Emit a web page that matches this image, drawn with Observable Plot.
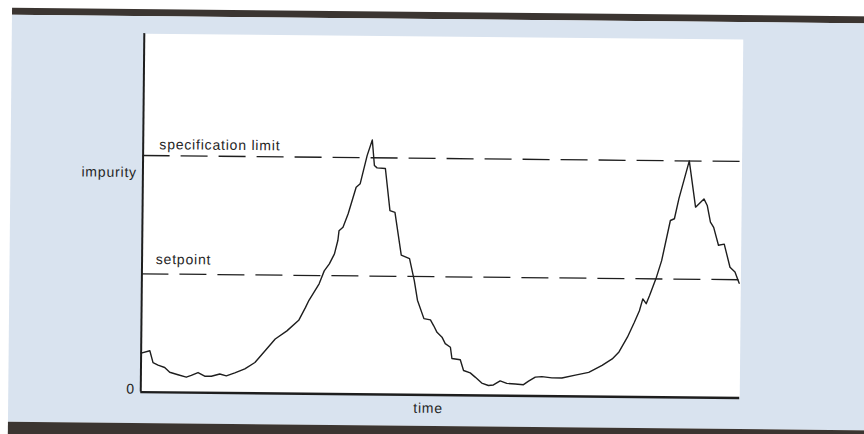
<!DOCTYPE html>
<html>
<head>
<meta charset="utf-8">
<script src="https://cdn.jsdelivr.net/npm/d3@7"></script>
<script src="https://cdn.jsdelivr.net/npm/@observablehq/plot@0.6"></script>
<style>
  html, body { margin: 0; padding: 0; background: #ffffff; overflow: hidden; }
  #page {
    position: absolute; left: 0; top: 0; width: 900px; height: 470px;
    transform-origin: 432px 217px; transform: rotate(0.57deg);
  }
  #topbar { position: absolute; left: 10px; top: 12px; width: 890px; height: 7px; background: #3b3531; }
  #panel { position: absolute; left: 10px; top: 19px; width: 890px; height: 407px; background: #d9e3ef; }
  #botbar { position: absolute; left: 10px; top: 426px; width: 890px; height: 45px; background: #3b3531; }
  #chart svg { display: block; }
</style>
</head>
<body>
<div id="page">
  <div id="topbar"></div>
  <div id="panel"><div id="chart"></div></div>
  <div id="botbar"></div>
</div>
<script>
// time (0..100, arbitrary units) and impurity (setpoint = 1, specification limit = 2)
const time = [0,1.45,2.0,2.84,3.96,4.8,6.19,7.58,8.41,9.53,
  10.65,11.76,13.16,14.26,15.67,17.34,19.01,20.69,22.36,24.3,
  26.25,27.37,27.93,29.6,30.43,31.27,32.11,32.66,32.83,33.49,
  34.33,35.62,36.29,37.41,38.24,38.63,39.08,40.47,41.3,42.14,
  43.26,44.65,45.48,46.04,47.15,48.24,48.8,49.36,50.2,50.75,
  51.62,51.89,53.29,53.85,54.97,55.8,56.91,58.03,58.86,59.98,
  61.09,62.49,63.88,64.72,65.84,66.94,68.61,70.28,72.52,74.75,
  76.97,78.65,79.77,81.15,82.27,83.11,83.66,84.23,84.78,85.9,
  86.74,88.13,88.8,89.52,91.19,92.31,93.7,94.26,94.82,95.37,
  96.2,97.16,98.16,99.0,99.72];
const impurity = [0.33,0.35,0.25,0.23,0.21,0.17,0.15,0.13,0.145,0.17,
  0.14,0.14,0.16,0.145,0.17,0.205,0.26,0.36,0.46,0.53,
  0.62,0.73,0.79,0.93,1.04,1.10,1.185,1.30,1.38,1.41,
  1.525,1.75,1.78,2.02,2.15,1.935,1.915,1.91,1.555,1.54,
  1.18,1.15,0.965,0.80,0.645,0.635,0.585,0.53,0.49,0.435,
  0.405,0.31,0.30,0.21,0.19,0.155,0.105,0.085,0.09,0.125,
  0.105,0.10,0.095,0.125,0.16,0.165,0.155,0.155,0.18,0.205,
  0.265,0.32,0.38,0.505,0.63,0.73,0.83,0.79,0.86,1.015,
  1.155,1.495,1.51,1.68,2.0,1.61,1.68,1.625,1.485,1.44,
  1.29,1.30,1.105,1.065,0.97];

const refValues = [2, 1];
const refLabels = ["specification limit", "setpoint"];

const yTicks = [0, 1.83];
const yTickLabels = ["0", "impurity"];
const xTicks = [48];
const xTickLabels = ["time"];

const series = time.map((t, i) => ({time: t, impurity: impurity[i]}));
const ink = "#1e1e1e";
const font = "'Liberation Sans', Arial, sans-serif";

const chart = Plot.plot({
  width: 854,
  height: 406,
  marginLeft: 132,
  marginRight: 123,
  marginTop: 17,
  marginBottom: 30.5,
  style: {background: "transparent", fontFamily: font, fontSize: "14px", color: "#262626", letterSpacing: "0.8px"},
  x: {domain: [0, 100]},
  y: {domain: [0, 3.03]},
  marks: [
    Plot.frame({fill: "white", stroke: null}),
    Plot.ruleY(refValues, {stroke: ink, strokeWidth: 1.3, strokeDasharray: "27,11"}),
    Plot.text([refLabels[0]], {x: 2.7, y: refValues[0], dy: -11, textAnchor: "start", fill: "#262626", fontSize: 14}),
    Plot.text([refLabels[1]], {x: 2.3, y: refValues[1], dy: -14.5, textAnchor: "start", fill: "#262626", fontSize: 14}),
    Plot.line(series, {x: "time", y: "impurity", stroke: ink, strokeWidth: 1.4}),
    Plot.ruleX([0], {stroke: ink, strokeWidth: 2}),
    Plot.ruleY([0], {stroke: ink, strokeWidth: 2.4}),
    Plot.axisY({ticks: yTicks, tickFormat: (d) => yTickLabels[yTicks.indexOf(d)], tickSize: 0, tickPadding: 6, dy: -3, label: null, fontSize: 14}),
    Plot.axisX({ticks: xTicks, tickFormat: (d) => xTickLabels[xTicks.indexOf(d)], tickSize: 0, tickPadding: 8, label: null, fontSize: 14})
  ]
});
document.getElementById("chart").appendChild(chart);
</script>
</body>
</html>
